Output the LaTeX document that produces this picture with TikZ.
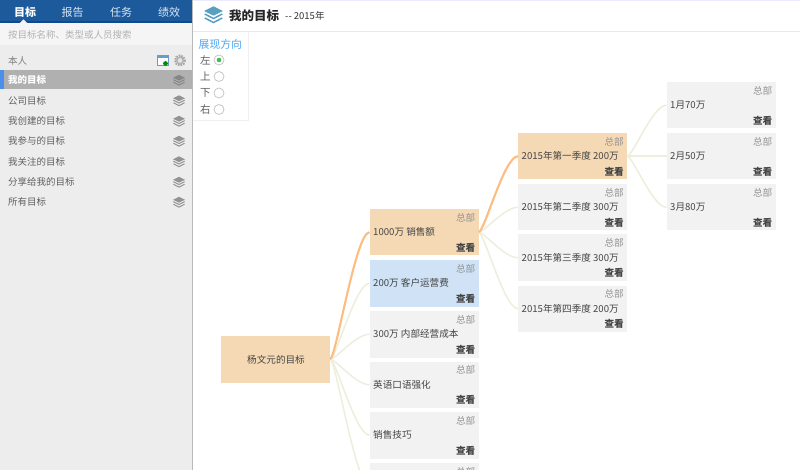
\documentclass[tikz,border=0pt]{standalone}
\usepackage{fontspec}
\setmainfont{Noto Sans CJK SC}
\usetikzlibrary{calc}
\definecolor{hdrblue}{HTML}{1D5A9C}
\definecolor{hdrdark}{HTML}{0F4A8C}
\definecolor{sidebg}{HTML}{EDEDED}
\definecolor{selgray}{HTML}{B0B0B0}
\definecolor{peach}{HTML}{F5D9B5}
\definecolor{skyfill}{HTML}{CFE2F6}
\definecolor{plainfill}{HTML}{F2F2F2}
\definecolor{linkoff}{HTML}{EEEEDC}
\definecolor{linkon}{HTML}{FDBD80}
\definecolor{txt}{HTML}{444444}
\definecolor{iconteal}{HTML}{5A9FC0}
\definecolor{winblue}{HTML}{6B9BC8}
\definecolor{selbar}{HTML}{4A8FE8}
\definecolor{dirblue}{HTML}{4DA6F5}
\definecolor{radiogreen}{HTML}{3CBF55}
\tikzset{
  x=1pt,y=-1pt,
  goal/.style={anchor=north west,minimum width=109pt,minimum height=46.5pt,inner sep=0pt,outer sep=0pt,draw=none},
  deptlabel/.style={anchor=east,inner sep=0pt,font=\fontsize{9.6}{12}\selectfont,text=gray!85},
  viewlabel/.style={anchor=east,inner sep=0pt,font=\fontsize{9.6}{12}\selectfont\bfseries,text=txt},
  mainlabel/.style={anchor=west,inner sep=0pt,font=\fontsize{9.6}{12}\selectfont,text=txt},
  sidelabel/.style={anchor=west,inner sep=0pt,font=\fontsize{9.5}{12}\selectfont,text=txt!85},
  tablabel/.style={anchor=center,inner sep=0pt,font=\fontsize{11}{13}\selectfont,text=white!85!hdrblue},
  linkplain/.style={draw=linkoff,line width=1.5pt},
  linkhot/.style={draw=linkon,line width=2.1pt},
  radio/.style={draw=gray!45,fill=white,line width=.8pt},
}
\newcommand{\goalbox}[5]{%
  \node[goal,fill=#4] (#1) at (#2,#3) {};
  \node[deptlabel] (#1d) at ([xshift=-3pt,yshift=-8.5pt]#1.north east) {总部};
  \node[viewlabel] (#1v) at ([xshift=-3pt,yshift=8pt]#1.south east) {查看};
  \node[mainlabel] (#1t) at ([xshift=3.5pt]#1.west) {#5};
}
\newcommand{\conn}[3]{%
  \draw[#3] (#1.east) .. controls ($(#1.east)+(6,0)$) and ($(#2.west)+(-14,0)$) .. (#2.west);
}
\newcommand{\stackicon}[3]{%
  \begin{scope}[shift={(#1,#2)},scale=.8]
    \fill[#3] (0,-6.5) -- (7.5,-2.8) -- (0,.9) -- (-7.5,-2.8) -- cycle;
    \draw[#3,line width=1pt] (-7,-.4) -- (0,3.2) -- (7,-.4);
    \draw[#3,line width=1pt] (-7,2.8) -- (0,6.4) -- (7,2.8);
  \end{scope}
}
\begin{document}
\begin{tikzpicture}
\useasboundingbox (0,0) rectangle (800,470);
\clip (0,0) rectangle (800,470);
\fill[white] (0,0) rectangle (800,470);
% sidebar
\fill[sidebg] (0,0) rectangle (192,470);
\draw[gray!55,line width=.8pt] (192.5,0) -- (192.5,470);
\fill[white!96!black] (0,23) rectangle (192,45);
\fill[hdrblue] (0,0) rectangle (192,22);
\fill[hdrdark] (0,21.5) rectangle (192,23);
\fill[white!96!black] (19.5,23.2) -- (23.5,19.5) -- (27.5,23.2) -- cycle;
\node[tablabel,text=white,font=\fontsize{11}{13}\selectfont\bfseries] (tab1) at (25,12.5) {目标};
\node[tablabel] (tab2) at (72.5,12.5) {报告};
\node[tablabel] (tab3) at (121,12.5) {任务};
\node[tablabel] (tab4) at (169,12.5) {绩效};
\node[sidelabel,text=gray!60] (search) at (8,35) {按目标名称、类型或人员搜索};
\node[sidelabel,text=gray] (me) at (8,61) {本人};
% small toolbar icons
\draw[winblue,fill=white,line width=.8pt] (157.5,55.5) rectangle (168,65);
\fill[winblue] (157.5,55.5) rectangle (168,58);
\fill[green!55!black] (165.5,63.5) circle (2.4);
\draw[gray!70,line width=2pt,dash pattern=on 1.6pt off 1.1pt] (180,60.5) circle (5);
\draw[gray!60,fill=white!80!gray,line width=1.5pt] (180,60.5) circle (3.3);
% selected row
\fill[selgray] (0,70) rectangle (192,89.5);
\fill[selbar] (0,70) rectangle (3.5,89.5);
\node[sidelabel,text=white,font=\fontsize{9.5}{12}\selectfont\bfseries] (s1) at (8,80) {我的目标};
\node[sidelabel] (s2) at (8,100.5) {公司目标};
\node[sidelabel] (s3) at (8,121) {我创建的目标};
\node[sidelabel] (s4) at (8,141) {我参与的目标};
\node[sidelabel] (s5) at (8,161.5) {我关注的目标};
\node[sidelabel] (s6) at (8,182) {分享给我的目标};
\node[sidelabel] (s7) at (8,202) {所有目标};
\stackicon{179}{80}{gray!95}
\foreach \yy in {100.5,121,141,161.5,182,202}{\stackicon{179}{\yy}{gray!85}}
% main header
\fill[blue!8!white] (193,0) rectangle (800,1.2);
\draw[gray!18,line width=.8pt] (193,31.5) -- (800,31.5);
\begin{scope}[shift={(213.5,14.5)},scale=1.25]
\fill[iconteal] (0,-6.5) -- (7.5,-2.8) -- (0,.9) -- (-7.5,-2.8) -- cycle;
\draw[iconteal,line width=1.5pt] (-7,-.4) -- (0,3.2) -- (7,-.4);
\draw[iconteal,line width=1.5pt] (-7,2.8) -- (0,6.4) -- (7,2.8);
\end{scope}
\node[anchor=west,inner sep=0pt,font=\fontsize{12.5}{14}\selectfont\bfseries,text=black!85] (title) at (229,15.5) {我的目标};
\node[anchor=west,inner sep=0pt,font=\fontsize{9.5}{12}\selectfont,text=black!80] (year) at (285,16) {-{}- 2015年};
% direction panel
\draw[gray!12,line width=.8pt] (248,32) -- (248,120) -- (193,120);
\node[sidelabel,text=dirblue,font=\fontsize{10.8}{12}\selectfont] (dirhead) at (198.5,44.5) {展现方向};
\node[sidelabel,font=\fontsize{10.5}{12}\selectfont] (d1) at (200,60.5) {左};
\node[sidelabel,font=\fontsize{10.5}{12}\selectfont] (d2) at (200,76.5) {上};
\node[sidelabel,font=\fontsize{10.5}{12}\selectfont] (d3) at (200,93) {下};
\node[sidelabel,font=\fontsize{10.5}{12}\selectfont] (d4) at (200,109.5) {右};
\draw[radio] (219,60) circle (5);
\draw[radio] (219,76.5) circle (5);
\draw[radio] (219,93) circle (5);
\draw[radio] (219,109.5) circle (5);
\fill[radiogreen] (219,60) circle (2.3);
% root
\node[goal,fill=peach] (root) at (221,336) {};
\node[inner sep=0pt,font=\fontsize{9.6}{12}\selectfont,text=txt] (roott) at (276,359.5) {杨文元的目标};
% level 1
\goalbox{a}{369.5}{209}{peach}{1000万 销售额}
\goalbox{b}{369.5}{260}{skyfill}{200万 客户运营费}
\goalbox{c}{369.5}{311}{plainfill}{300万 内部经营成本}
\goalbox{d}{369.5}{361.5}{plainfill}{英语口语强化}
\goalbox{e}{369.5}{412}{plainfill}{销售技巧}
\goalbox{f}{369.5}{463}{plainfill}{}
% level 2
\goalbox{p}{518}{133}{peach}{2015年第一季度 200万}
\goalbox{q}{518}{184}{plainfill}{2015年第二季度 300万}
\goalbox{r}{518}{234.5}{plainfill}{2015年第三季度 300万}
\goalbox{s}{518}{285.5}{plainfill}{2015年第四季度 200万}
% level 3
\goalbox{u}{666.5}{82}{plainfill}{1月70万}
\goalbox{v}{666.5}{133}{plainfill}{2月50万}
\goalbox{w}{666.5}{184}{plainfill}{3月80万}
% connectors
\conn{root}{b}{linkplain}
\conn{root}{c}{linkplain}
\conn{root}{d}{linkplain}
\conn{root}{e}{linkplain}
\conn{root}{f}{linkplain}
\conn{a}{q}{linkplain}
\conn{a}{r}{linkplain}
\conn{a}{s}{linkplain}
\conn{p}{u}{linkplain}
\conn{p}{v}{linkplain}
\conn{p}{w}{linkplain}
\conn{root}{a}{linkhot}
\conn{a}{p}{linkhot}
\end{tikzpicture}
\end{document}
